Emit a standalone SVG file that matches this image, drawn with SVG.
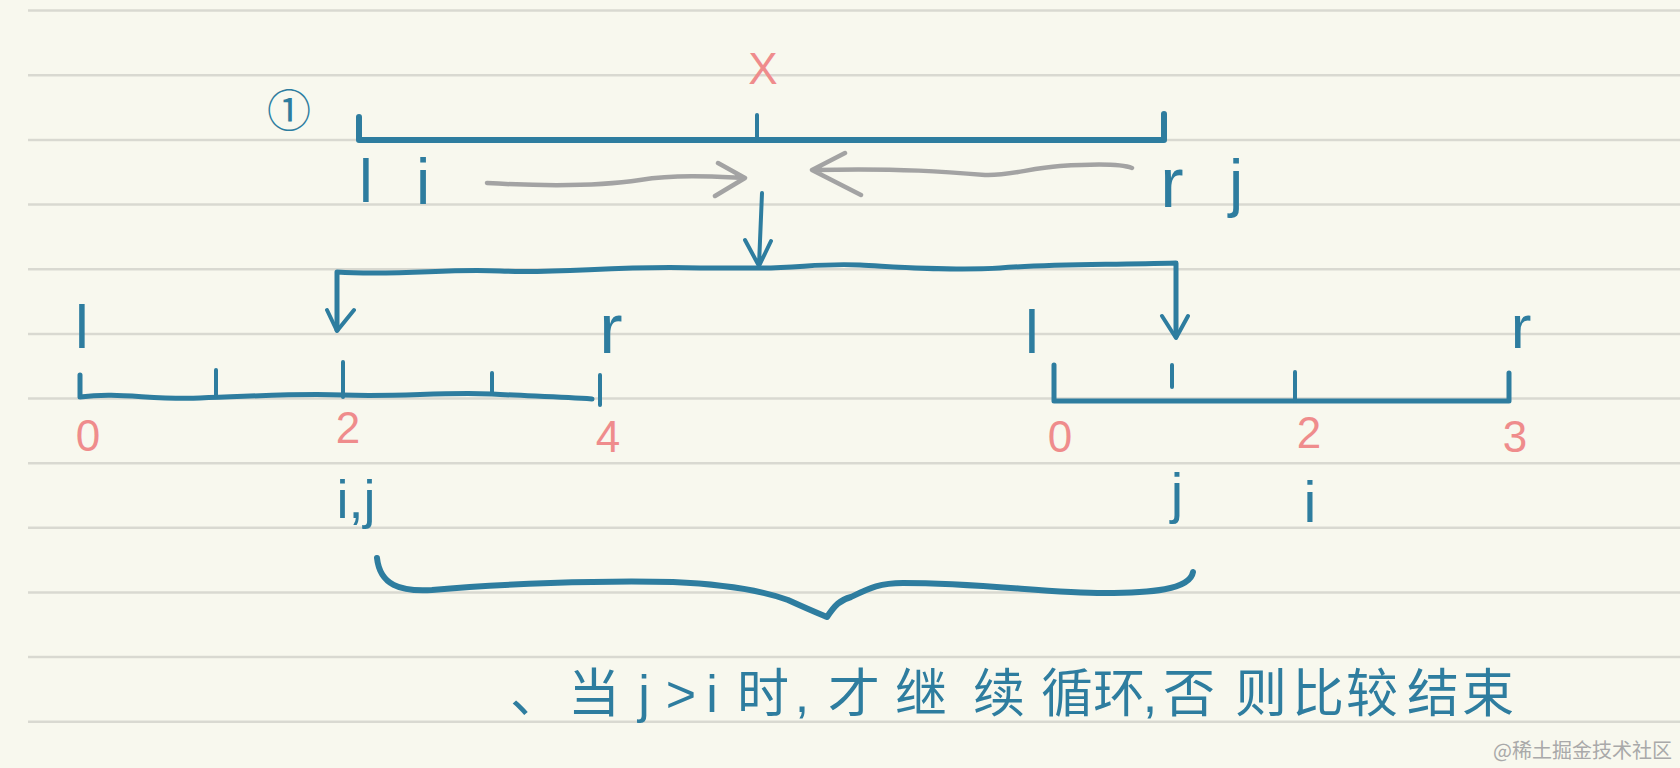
<svg xmlns="http://www.w3.org/2000/svg" width="1680" height="768" viewBox="0 0 1680 768">
<style>
.ruled{stroke:#d9d9d1;stroke-width:2.5;fill:none}
.ink{stroke:#2e7d9f;fill:none;stroke-linecap:round;stroke-linejoin:round}
.gray{stroke:#a3a3a3;fill:none;stroke-width:4.5;stroke-linecap:round;stroke-linejoin:round}
.lt{font-family:"Liberation Sans","DejaVu Sans",sans-serif;fill:#2e7d9f;text-anchor:middle}
.num{font-family:"Liberation Sans","DejaVu Sans",sans-serif;fill:#ef8c8c;text-anchor:middle;font-size:44px}
.cjk{font-family:"Liberation Sans","Noto Sans CJK SC",sans-serif;fill:#2e7d9f;text-anchor:middle;font-size:52px}
</style>
<rect width="1680" height="768" fill="#f8f8ee"/>
<g id="paper">
<path class="ruled" d="M28,10.6H1680M28,75.3H1680M28,139.9H1680M28,204.6H1680M28,269.2H1680M28,333.9H1680M28,398.5H1680M28,463.2H1680M28,527.8H1680M28,592.5H1680M28,657.1H1680M28,721.8H1680"/>
</g>

<g id="top-array">
<text x="289" y="127" font-size="44" font-family="Noto Sans CJK SC,sans-serif" fill="#2e7d9f" text-anchor="middle">①</text>
<text class="num" x="763" y="84" font-size="40">X</text>
<path class="ink" stroke-width="6" d="M359,117V140H1164V114"/>
<path class="ink" stroke-width="4" d="M757,115V140"/>
<text class="lt" x="366" y="202" font-size="62">l</text>
<text class="lt" x="423" y="204" font-size="64">i</text>
<text class="lt" x="1172" y="207" font-size="70">r</text>
<text class="lt" x="1236" y="205" font-size="64">j</text>
</g>

<g id="left-array">
<text class="lt" x="82" y="348" font-size="62">l</text>
<text class="lt" x="611" y="353" font-size="70">r</text>
<path class="ink" stroke-width="5" d="M80,375V397C120,392 150,400 200,398C260,396 300,393 343,395C400,397 440,392 492,394C530,396 560,397 592,399"/>
<path class="ink" stroke-width="4" d="M216,370V396M343,362V397M492,373V394M600,375V405"/>
<text class="num" x="88" y="451">0</text>
<text class="num" x="348" y="443">2</text>
<text class="num" x="608" y="452">4</text>
<text class="lt" x="356" y="518" font-size="54">i,j</text>
</g>

<g id="right-array">
<text class="lt" x="1032" y="353" font-size="62">l</text>
<text class="lt" x="1521" y="348" font-size="62">r</text>
<path class="ink" stroke-width="5" d="M1054,365V401H1509V373"/>
<path class="ink" stroke-width="4" d="M1172,365V387M1295,372V401"/>
<text class="num" x="1060" y="452">0</text>
<text class="num" x="1309" y="448">2</text>
<text class="num" x="1515" y="452">3</text>
<text class="lt" x="1177" y="512" font-size="56">j</text>
<text class="lt" x="1310" y="522" font-size="58">i</text>
</g>

<g id="connectors">
<path class="gray" d="M487,183C540,186 600,186 640,180S720,177 743,178M718,163L745,178L715,196"/>
<path class="gray" d="M1132,168C1120,163 1090,164 1060,166C1030,168 1010,176 985,175C950,172 900,168 814,170M845,153L812,170L861,195"/>
<path class="ink" stroke-width="4" d="M762,193C761,220 760,245 759,265M745,240L759,266L771,241"/>
<path class="ink" stroke-width="5" d="M337,330V272C400,276 450,268 500,271C560,274 620,265 700,268L760,268C800,268 820,263 860,265C900,267 950,271 1000,268C1050,264 1100,265 1176,263V336"/>
<path class="ink" stroke-width="4" d="M327,310L337,331L354,310M1162,316L1176,338L1188,316"/>
<path class="ink" stroke-width="6" d="M377,558C380,585 400,592 432,590C500,584 600,580 673,582C720,584 760,590 788,600C810,610 815,612 827,617C835,605 840,600 851,597C870,588 880,583 903,583C980,583 1050,593 1104,593C1150,593 1190,590 1193,572"/>
</g>

<g id="note">
<text class="cjk" x="536 594 644 681 712 763 802 854 921 999 1067 1119 1150 1189 1261 1318 1372 1433 1488" y="712">、当j&gt;i时,才继续循环,否则比较结束</text>
</g>
<text x="1672" y="758" font-family="Noto Sans CJK SC,sans-serif" font-size="20" fill="#a9a9a9" text-anchor="end">@稀土掘金技术社区</text>
</svg>
